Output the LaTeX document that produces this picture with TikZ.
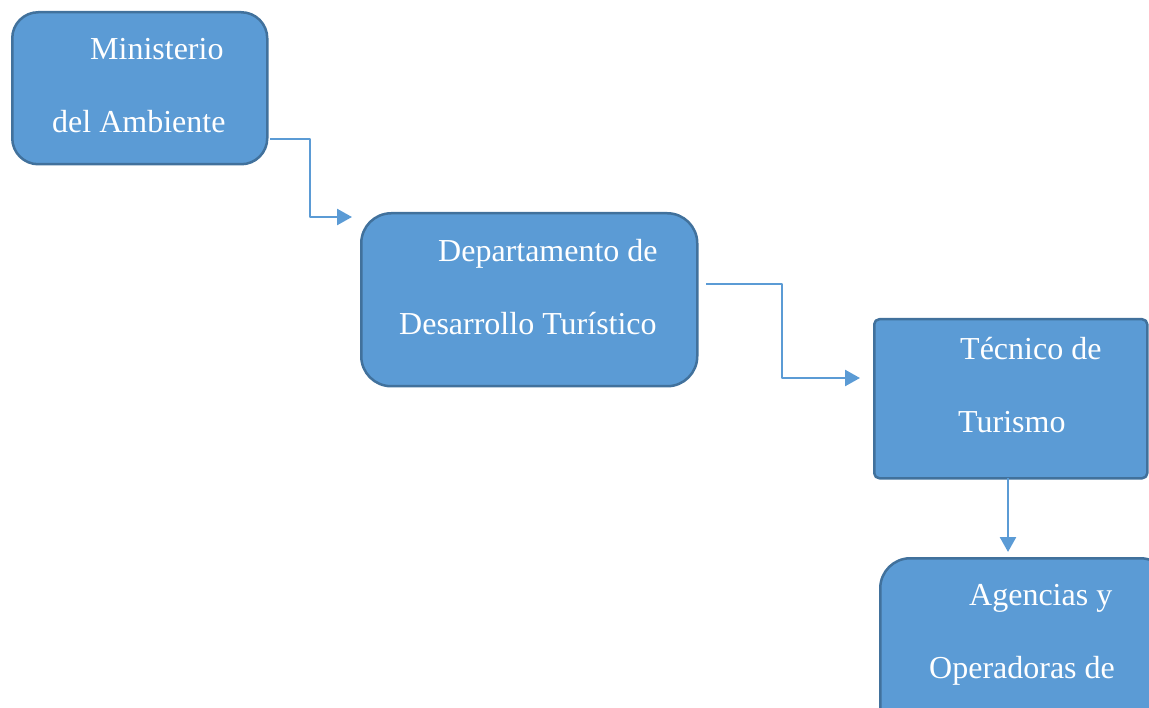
\documentclass[tikz,border=0pt]{standalone}
\usepackage{fontspec}
\setmainfont{Liberation Serif}
\usetikzlibrary{arrows.meta}
\definecolor{cajaazul}{HTML}{5B9BD5}
\definecolor{bordeazul}{HTML}{41719C}
\begin{document}
\begin{tikzpicture}[x=1pt,y=-1pt,line join=round]
	\tikzset{caja/.style={draw=bordeazul,fill=cajaazul,line width=2.5pt,inner sep=0pt,anchor=north west},
		texto/.style={text=white,font=\fontsize{32}{38}\selectfont,anchor=base west,inner sep=0pt},
		flecha/.style={draw=cajaazul,line width=2.6pt,-{Triangle[length=15pt,width=16pt]}}}
	\useasboundingbox (0,0) rectangle (1149,708);
	\clip (0,0) rectangle (1149,708);
	% cajas
	\node[caja,rounded corners=26pt,minimum width=255pt,minimum height=152pt] (mini) at (11,11) {};
	\node[caja,rounded corners=30pt,minimum width=336pt,minimum height=173pt] (depto) at (360,212) {};
	\node[caja,rounded corners=5pt,minimum width=273pt,minimum height=159pt] (tecnico) at (873,318) {};
	\node[caja,rounded corners=30pt,minimum width=290pt,minimum height=190pt] (agencias) at (879,557) {};
	% textos
	\node[texto] (mini1) at (90,60) {Ministerio};
	\node[texto] (mini2) at (52,133) {del Ambiente};
	\node[texto] (depto1) at (438,262) {Departamento de};
	\node[texto] (depto2) at (399,335) {Desarrollo Turístico};
	\node[texto] (tecnico1) at (960,360) {Técnico de};
	\node[texto] (tecnico2) at (958,433) {Turismo};
	\node[texto] (agencias1) at (969,605) {Agencias y};
	\node[texto] (agencias2) at (929,678) {Operadoras de};
	% conectores
	\coordinate (s1) at (270,139);
	\coordinate (e1) at (352,217);
	\coordinate (s2) at (706,284);
	\coordinate (e2) at (860,378);
	\coordinate (s3) at (1008,478);
	\coordinate (e3) at (1008,552);
	\draw[flecha] (s1) -- (310,139) |- (e1);
	\draw[flecha] (s2) -- (782,284) |- (e2);
	\draw[flecha] (s3) -- (e3);
\end{tikzpicture}
\end{document}
